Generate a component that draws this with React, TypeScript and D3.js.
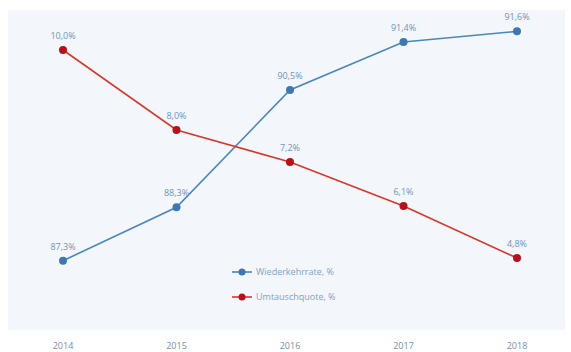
import React from "react";
import * as d3 from "d3";

const years = ["2014", "2015", "2016", "2017", "2018"];
const returnRate = [87.3, 88.3, 90.5, 91.4, 91.6];
const exchangeRate = [10.0, 8.0, 7.2, 6.1, 4.8];
const seriesNames = ["Wiederkehrrate, %", "Umtauschquote, %"];

const W = 571;
const H = 352;
const panel = { x0: 8, x1: 565, y0: 10, y1: 330 };

const fmt = (v: number) => v.toFixed(1).replace(".", ",") + "%";

export default function App() {
  const x = d3.scalePoint<string>().domain(years).range([63, 517]);
  const yBlue = d3.scaleLinear().domain([86, 92]).range([panel.y1, panel.y0]);
  const yRed = d3.scaleLinear().domain([3, 11]).range([panel.y1, panel.y0]);

  const series = [
    { name: seriesNames[0], values: returnRate, y: yBlue, line: "#4a86c0", dot: "#3f78b0" },
    { name: seriesNames[1], values: exchangeRate, y: yRed, line: "#d9372c", dot: "#b5121b" },
  ];

  const font = "'Open Sans', 'Liberation Sans', sans-serif";

  return (
    <svg
      width={W}
      height={H}
      style={{ position: "absolute", left: 0, top: 0, background: "#ffffff" }}
      fontFamily={font}
    >
      <rect
        x={panel.x0}
        y={panel.y0}
        width={panel.x1 - panel.x0}
        height={panel.y1 - panel.y0}
        fill="#f3f6fa"
      />
      {series.map((s) => {
        const line = d3
          .line<number>()
          .x((_, i) => x(years[i]) as number)
          .y((v) => s.y(v));
        return (
          <g key={s.name}>
            <path d={line(s.values) ?? ""} fill="none" stroke={s.line} strokeWidth={1.6} />
            {s.values.map((v, i) => (
              <g key={i}>
                <circle cx={x(years[i])} cy={s.y(v)} r={4} fill={s.dot} />
                <text
                  x={x(years[i])}
                  y={s.y(v) - 11}
                  textAnchor="middle"
                  fontSize={9}
                  fill="#6f95bb"
                >
                  {fmt(v)}
                </text>
              </g>
            ))}
          </g>
        );
      })}
      {years.map((yr) => (
        <text
          key={yr}
          x={x(yr)}
          y={349}
          textAnchor="middle"
          fontSize={9}
          fill="#7d8ea3"
        >
          {yr}
        </text>
      ))}
      {series.map((s, i) => {
        const ly = 272 + i * 25;
        return (
          <g key={s.name}>
            <line x1={232} x2={252} y1={ly} y2={ly} stroke={s.line} strokeWidth={1.6} />
            <circle cx={242} cy={ly} r={3.5} fill={s.dot} />
            <text x={256} y={ly + 3} fontSize={9} fill="#7fa3c6">
              {s.name}
            </text>
          </g>
        );
      })}
    </svg>
  );
}
